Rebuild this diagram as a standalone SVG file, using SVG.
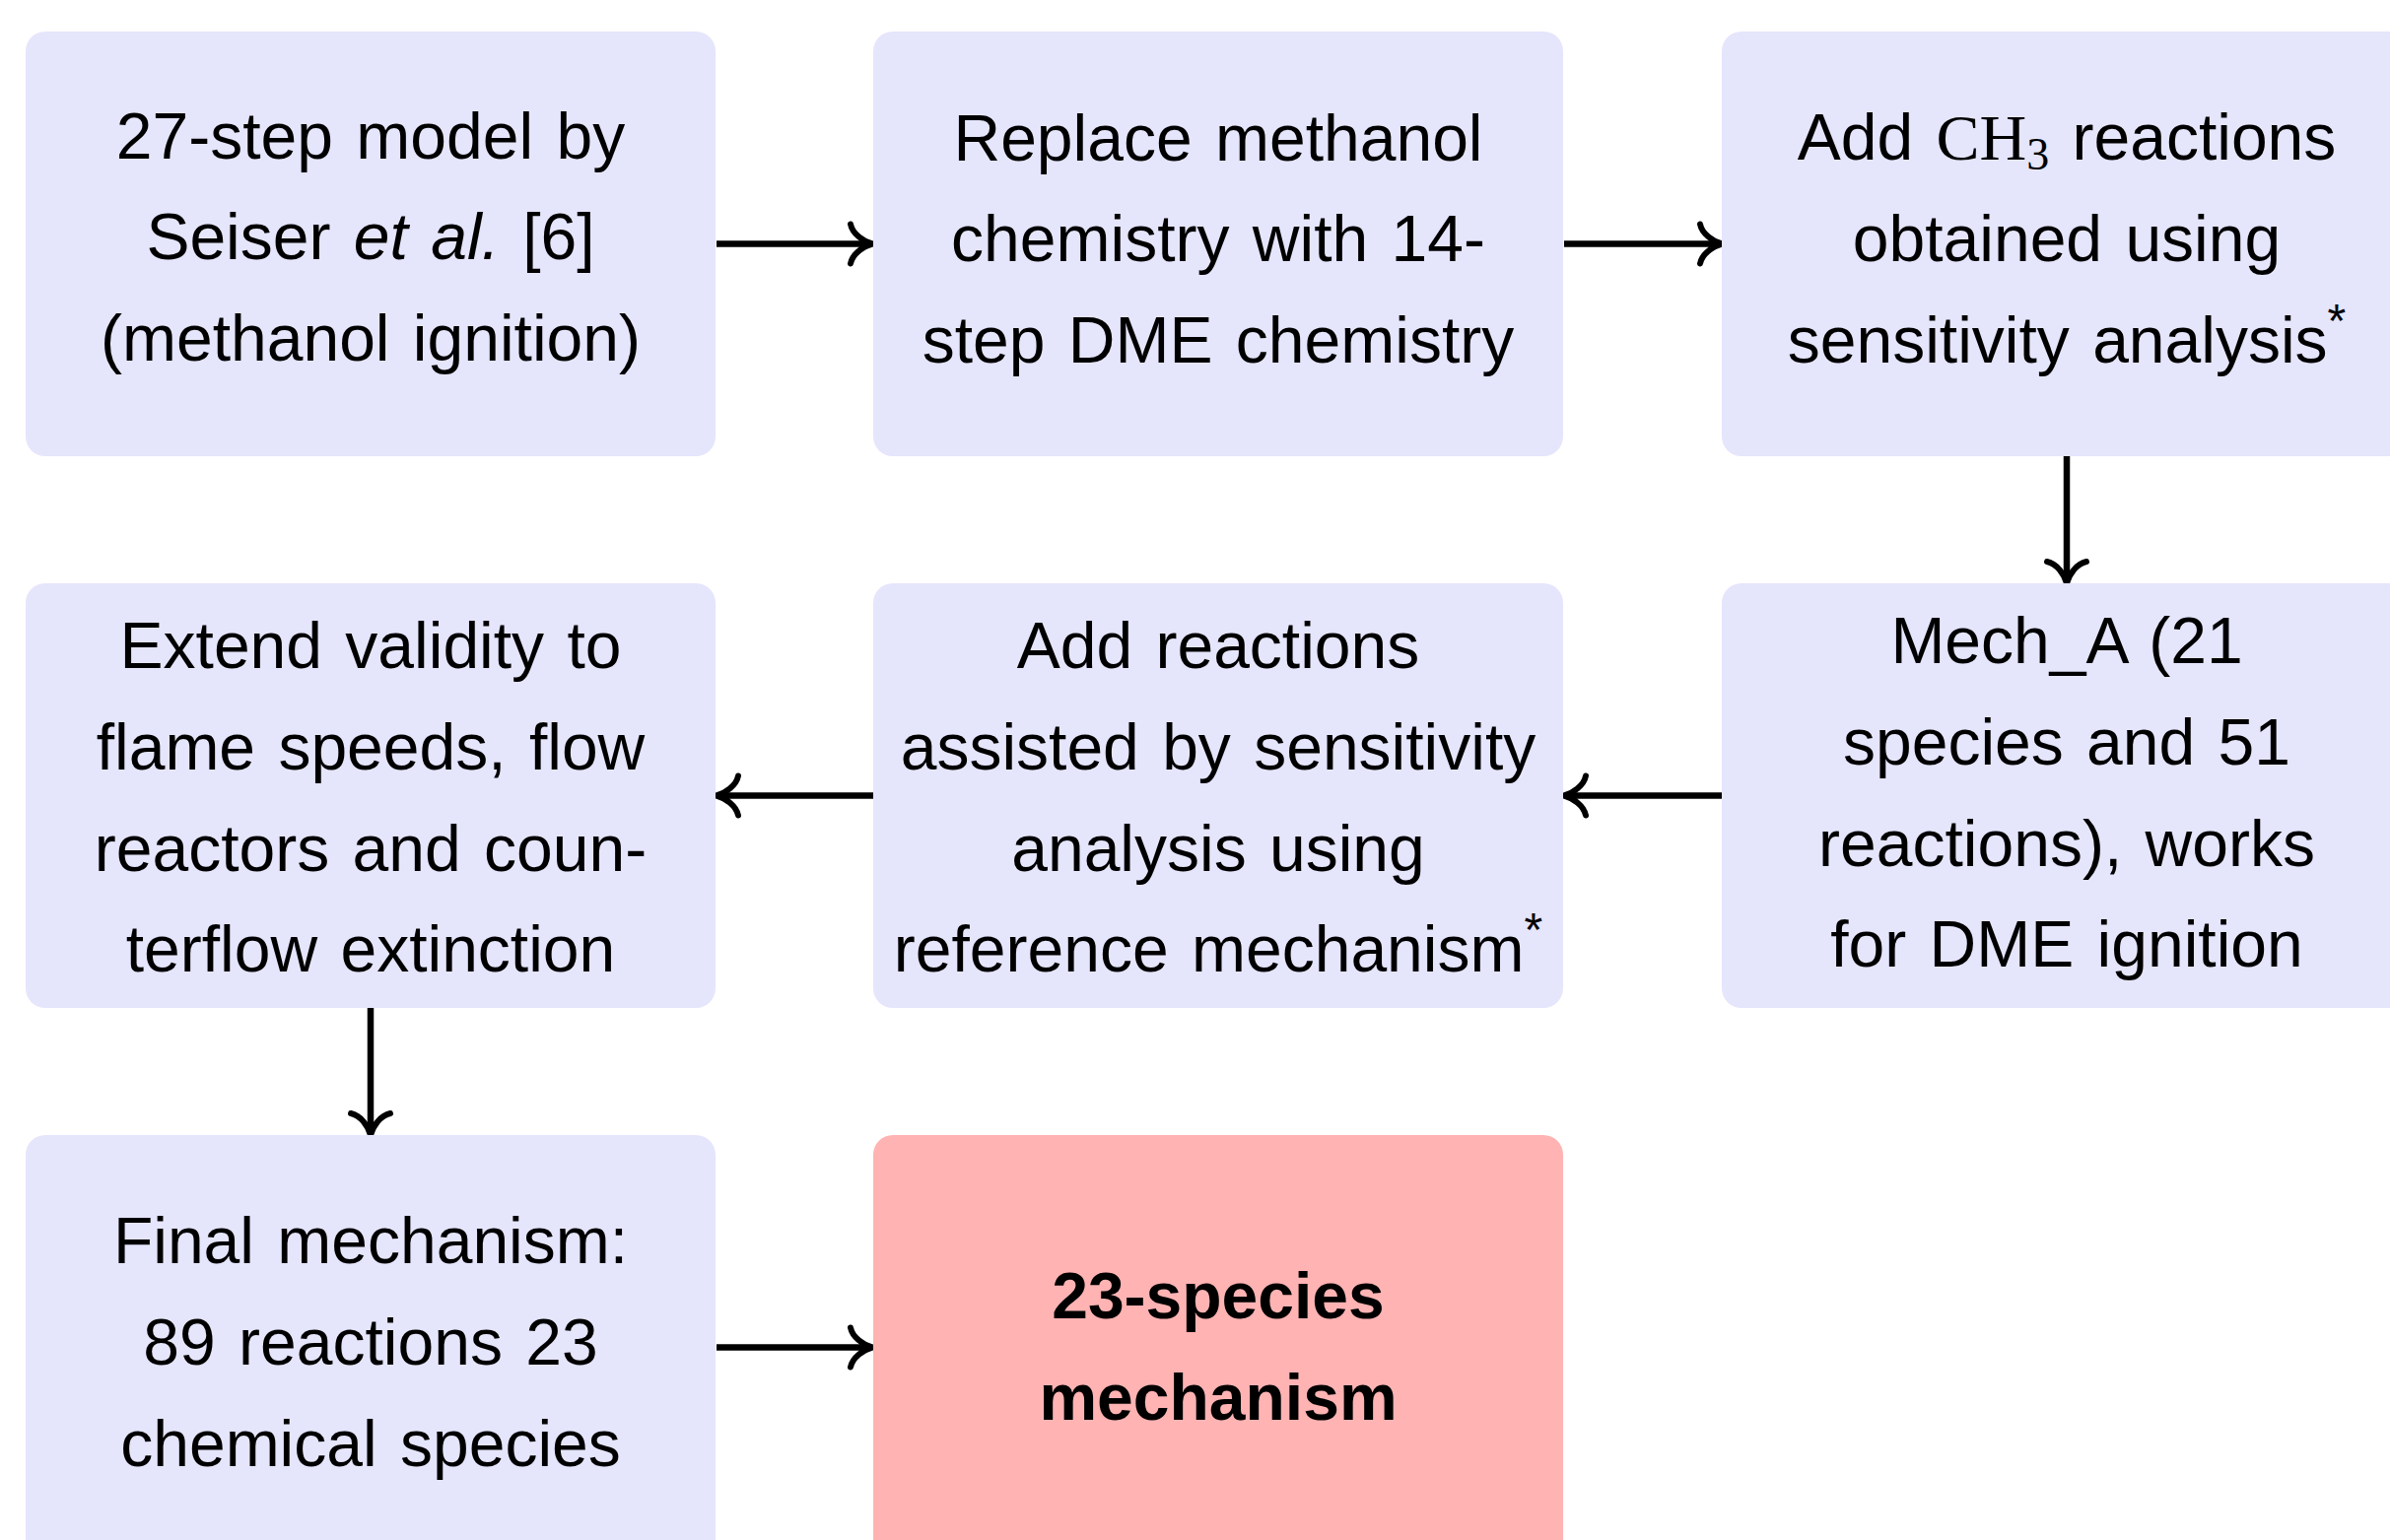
<svg xmlns="http://www.w3.org/2000/svg" width="2425" height="1563" viewBox="0 0 2425 1563">
  <style>
    .box { fill: #E5E5FC; }
    .final { fill: #FFB3B3; }
    .t { font-family: "Liberation Sans", Arial, sans-serif; font-size: 66px; text-anchor: middle; fill: #000; word-spacing: 5px; }
    .b { font-weight: bold; }
    .it { font-style: italic; }
    .m { font-family: "Liberation Serif", "Times New Roman", serif; }
    .sup { font-size: 48px; }
    .sub { font-size: 46px; }
    .conn { fill: none; stroke: #000; stroke-width: 6.5; }
  </style>
  <defs>
    <marker id="arr" markerUnits="userSpaceOnUse" viewBox="-30 -26 40 52" markerWidth="40" markerHeight="52" refX="-4" refY="0" orient="auto" overflow="visible">
      <path d="M -22 -20 C -20 -10 -9 -2.5 0 0 C -9 2.5 -20 10 -22 20" fill="none" stroke="#000" stroke-width="6" stroke-linecap="round" stroke-linejoin="round"/>
    </marker>
  </defs>
  <rect width="2425" height="1563" fill="#fff"/>

  <g id="connectors">
    <path class="conn" d="M 727 247.5 L 881 247.5" marker-end="url(#arr)"/>
    <path class="conn" d="M 1587 247.5 L 1743 247.5" marker-end="url(#arr)"/>
    <path class="conn" d="M 2097 463 L 2097 588" marker-end="url(#arr)"/>
    <path class="conn" d="M 1747 807.5 L 1591 807.5" marker-end="url(#arr)"/>
    <path class="conn" d="M 886 807.5 L 731 807.5" marker-end="url(#arr)"/>
    <path class="conn" d="M 376 1023 L 376 1148" marker-end="url(#arr)"/>
    <path class="conn" d="M 727 1367.5 L 881 1367.5" marker-end="url(#arr)"/>
  </g>

  <g id="n1">
    <rect class="box" x="26" y="32" width="700" height="431" rx="20"/>
    <text class="t" x="376" y="161">27-step model by</text>
    <text class="t" x="376" y="263">Seiser <tspan class="it">et al.</tspan> [6]</text>
    <text class="t" x="376" y="366">(methanol ignition)</text>
  </g>

  <g id="n2">
    <rect class="box" x="886" y="32" width="700" height="431" rx="20"/>
    <text class="t" x="1236" y="163">Replace methanol</text>
    <text class="t" x="1236" y="265">chemistry with 14-</text>
    <text class="t" x="1236" y="368">step DME chemistry</text>
  </g>

  <g id="n3">
    <rect class="box" x="1747" y="32" width="700" height="431" rx="20"/>
    <text class="t" x="2097" y="162">Add <tspan class="m">CH</tspan><tspan class="m sub" dy="10">3</tspan><tspan dy="-10"> reactions</tspan></text>
    <text class="t" x="2097" y="265">obtained using</text>
    <text class="t" x="2097" y="368">sensitivity analysis<tspan class="sup" dy="-26">*</tspan></text>
  </g>

  <g id="n4">
    <rect class="box" x="26" y="592" width="700" height="431" rx="20"/>
    <text class="t" x="376" y="678">Extend validity to</text>
    <text class="t" x="376" y="781">flame speeds, flow</text>
    <text class="t" x="376" y="884">reactors and coun-</text>
    <text class="t" x="376" y="986">terflow extinction</text>
  </g>

  <g id="n5">
    <rect class="box" x="886" y="592" width="700" height="431" rx="20"/>
    <text class="t" x="1236" y="678">Add reactions</text>
    <text class="t" x="1236" y="781">assisted by sensitivity</text>
    <text class="t" x="1236" y="884">analysis using</text>
    <text class="t" x="1236" y="986">reference mechanism<tspan class="sup" dy="-26">*</tspan></text>
  </g>

  <g id="n6">
    <rect class="box" x="1747" y="592" width="700" height="431" rx="20"/>
    <text class="t" x="2097" y="673">Mech_A (21</text>
    <text class="t" x="2097" y="776">species and 51</text>
    <text class="t" x="2097" y="879">reactions), works</text>
    <text class="t" x="2097" y="981">for DME ignition</text>
  </g>

  <g id="n7">
    <rect class="box" x="26" y="1152" width="700" height="431" rx="20"/>
    <text class="t" x="376" y="1282">Final mechanism:</text>
    <text class="t" x="376" y="1385">89 reactions 23</text>
    <text class="t" x="376" y="1488">chemical species</text>
  </g>

  <g id="n8">
    <rect class="final" x="886" y="1152" width="700" height="431" rx="20"/>
    <text class="t b" x="1236" y="1338">23-species</text>
    <text class="t b" x="1236" y="1441">mechanism</text>
  </g>
</svg>
